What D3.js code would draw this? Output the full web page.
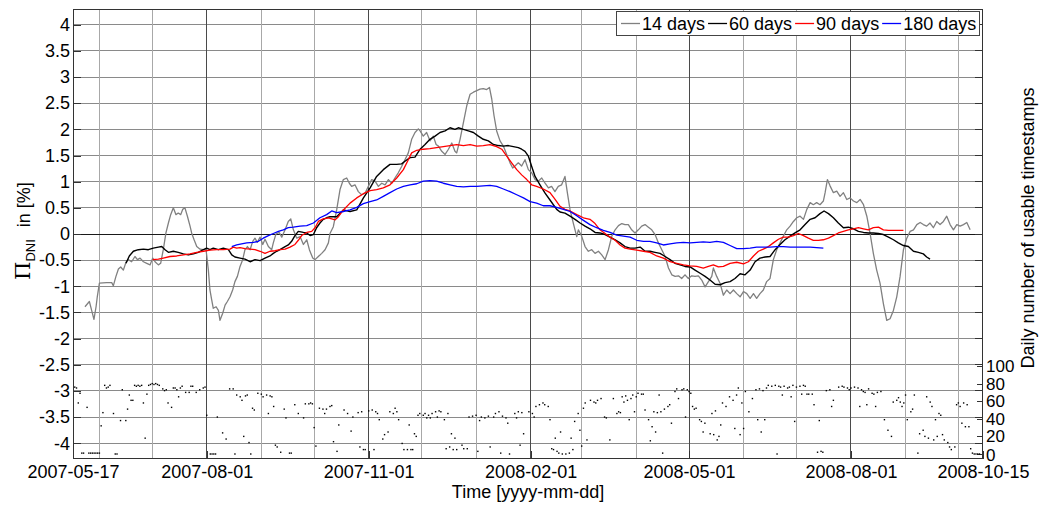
<!DOCTYPE html>
<html><head><meta charset="utf-8">
<script src="https://cdn.jsdelivr.net/npm/d3@7"></script>
<style>
body{margin:0;background:#fff}
svg{display:block}
text{font-family:"Liberation Sans",Arial,sans-serif;fill:#000}
</style>
</head><body>
<svg id="chart" width="1040" height="505"></svg>
<script>
// ---------------- DATA ----------------
const startDate = "2007-05-17", endDate = "2008-10-15";
const xTickLabels = ["2007-05-17","2007-08-01","2007-11-01","2008-02-01","2008-05-01","2008-08-01","2008-10-15"];
const monthGridDates = ["2007-06-01","2007-07-01","2007-09-01","2007-10-01","2007-12-01","2008-01-01",
  "2008-03-01","2008-04-01","2008-06-01","2008-07-01","2008-09-01","2008-10-01"];
const yTickValues = [-4,-3.5,-3,-2.5,-2,-1.5,-1,-0.5,0,0.5,1,1.5,2,2.5,3,3.5,4];
const countTickValues = [0,20,40,60,80,100];
const seriesNames = ["14 days","60 days","90 days","180 days"];
const seriesColors = ["#808080","#000000","#ff0000","#0000ff"];

// days since 2007-05-17 and Pi_DNI in %
const days14 = [6.8,9.3,10.6,11.9,13.1,13.8,15.0,19.1,22.0,22.9,24.4,25.8,27.1,28.6,30.1,31.4,33.3,35.2,36.6,38.1,40.0,41.9,43.8,45.3,46.6,48.5,49.8,51.3,52.8,54.2,55.5,57.0,58.5,59.8,61.2,62.3,63.6,65.0,66.5,67.4,68.8,70.3,72.2,74.1,75.6,76.9,77.8,78.8,79.7,81.3,82.6,83.5,85.0,86.4,87.7,89.2,90.7,92.0,93.4,94.9,96.4,97.7,99.1,100.6,102.1,103.4,104.7,106.3,107.8,109.1,111.0,112.9,113.8,115.3,117.2,118.6,120.5,122.3,123.7,125.2,127.1,129.0,130.9,132.8,134.3,136.2,137.5,139.4,141.3,143.2,145.1,146.0,147.9,149.8,151.7,153.6,155.5,157.0,158.3,160.2,162.1,164.0,165.9,167.8,169.7,171.6,173.5,175.4,177.3,179.2,181.1,182.9,184.8,186.7,188.6,190.5,192.4,194.3,196.2,197.2,199.0,200.9,202.8,204.7,206.3,207.6,209.5,211.4,213.3,215.2,217.0,218.0,219.9,221.8,223.7,225.6,227.5,229.4,231.2,233.1,235.0,236.6,237.9,239.2,240.7,242.6,244.5,246.4,248.3,249.8,251.1,253.0,254.9,256.8,258.7,260.6,262.5,264.4,266.3,268.2,270.1,271.9,273.8,275.7,277.6,279.5,280.9,282.4,284.3,286.2,287.1,289.0,290.9,292.8,294.7,296.6,298.5,300.4,302.3,304.2,306.1,308.0,309.9,311.8,313.6,315.5,317.4,319.3,321.2,323.1,325.0,326.9,328.8,330.7,332.6,334.5,336.4,338.3,340.2,342.1,344.0,345.8,347.7,349.6,351.5,353.4,355.3,357.2,359.1,361.0,362.9,363.8,365.7,367.6,369.5,371.4,373.3,375.2,377.1,379.0,380.9,382.8,384.7,386.6,388.4,390.3,392.2,394.1,396.0,397.9,399.8,401.7,403.6,405.5,407.4,409.3,411.2,413.1,415.0,416.9,418.8,420.6,422.5,424.4,426.3,427.3,428.6,430.1,432.0,433.9,435.8,437.7,439.6,441.5,443.4,445.3,447.2,449.1,451.0,452.8,454.7,456.6,458.5,460.4,462.3,464.2,466.1,468.0,469.9,471.8,473.7,475.6,477.5,479.4,481.3,483.1,485.0,486.9,488.8,490.7,492.6,494.5,496.4,498.3,500.2,502.1,504.0,505.9,507.8,509.7];
const vals14 = [-1.39,-1.29,-1.46,-1.63,-1.39,-1.2,-0.94,-0.93,-0.93,-0.99,-0.81,-0.67,-0.63,-0.69,-0.54,-0.49,-0.53,-0.43,-0.49,-0.46,-0.53,-0.56,-0.59,-0.46,-0.53,-0.59,-0.56,-0.30,0.02,0.21,0.37,0.50,0.37,0.40,0.37,0.47,0.50,0.34,0.15,0.02,-0.11,-0.24,-0.29,-0.30,-0.30,-0.69,-1.07,-1.26,-1.42,-1.39,-1.46,-1.65,-1.52,-1.36,-1.29,-1.20,-1.07,-0.91,-0.81,-0.62,-0.49,-0.30,-0.24,-0.30,-0.14,-0.08,-0.16,-0.06,-0.20,-0.10,-0.24,-0.30,-0.17,0.00,0.03,-0.06,0.08,0.24,0.29,0.08,-0.08,-0.05,-0.20,-0.11,-0.30,-0.46,-0.49,-0.43,-0.37,-0.30,-0.17,0.01,0.14,0.46,0.85,1.04,1.07,0.97,0.91,0.94,0.81,0.75,0.78,0.91,1.04,1.01,0.91,0.97,0.94,1.04,0.97,1.07,1.17,1.29,1.42,1.55,1.81,1.94,2.01,1.97,1.87,1.94,1.78,1.87,1.71,1.68,1.58,1.52,1.62,1.74,1.58,1.55,1.81,2.13,2.45,2.67,2.71,2.74,2.77,2.78,2.76,2.80,2.58,2.26,1.97,1.78,1.68,1.52,1.36,1.26,1.30,1.36,1.30,1.42,1.23,1.17,1.04,1.01,1.07,0.97,0.88,0.91,0.81,0.91,0.94,1.10,0.78,0.46,0.20,-0.05,0.08,-0.04,-0.24,-0.33,-0.30,-0.37,-0.33,-0.40,-0.49,-0.30,-0.04,0.08,0.16,0.20,0.18,0.18,0.08,0.02,0.08,0.15,0.18,0.13,0.08,-0.01,-0.17,-0.30,-0.43,-0.65,-0.78,-0.81,-0.80,-0.85,-0.78,-0.85,-0.80,-0.81,-0.80,-0.88,-1.01,-0.91,-0.81,-0.65,-0.81,-0.94,-1.17,-1.07,-1.14,-1.07,-1.14,-1.20,-1.10,-1.14,-1.23,-1.14,-1.23,-1.14,-1.07,-0.91,-0.85,-0.49,-0.30,-0.17,-0.04,0.08,0.15,0.24,0.31,0.34,0.28,0.47,0.60,0.56,0.60,0.56,0.63,0.79,1.04,0.92,0.79,0.82,0.72,0.79,0.66,0.69,0.63,0.60,0.66,0.56,0.34,0.02,-0.37,-0.69,-0.94,-1.33,-1.65,-1.62,-1.46,-1.20,-0.81,-0.30,-0.08,0.05,0.08,0.18,0.22,0.18,0.15,0.21,0.12,0.24,0.18,0.24,0.34,0.18,0.08,0.18,0.15,0.18,0.22,0.08];

const days60 = [30.1,32.0,34.3,37.1,40.0,42.8,45.6,48.5,50.4,52.3,54.2,57.0,59.8,62.7,65.5,68.4,71.2,74.1,75.9,77.8,79.7,82.6,85.4,88.3,90.2,92.0,94.9,97.7,100.6,103.4,106.3,109.1,111.9,113.8,115.7,117.6,120.5,122.3,124.2,126.1,128.0,130.9,132.8,134.7,136.6,138.4,140.3,142.2,144.1,146.0,149.8,153.6,157.4,161.2,165.0,168.8,172.5,176.3,180.1,183.9,186.7,188.6,191.5,194.3,197.2,200.0,202.8,205.7,208.5,211.4,214.2,217.0,218.9,221.8,224.6,227.5,230.3,233.1,236.0,238.8,241.7,244.5,247.3,250.2,253.0,254.9,256.8,258.7,260.6,262.5,265.3,268.2,271.0,274.8,276.7,279.5,282.4,285.2,288.1,290.9,293.7,296.6,299.4,302.3,305.1,308.0,310.8,313.6,316.5,319.3,322.2,325.0,327.8,330.7,333.5,336.4,339.2,342.0,344.9,347.7,350.6,353.4,356.3,359.1,361.9,364.8,367.6,370.5,373.3,376.1,379.0,381.8,384.7,387.5,390.3,393.2,396.0,398.9,401.7,404.5,407.4,410.2,413.1,415.9,418.8,421.6,424.4,426.7,429.2,432.0,434.8,437.7,440.5,443.4,446.2,449.1,451.9,454.7,457.6,460.4,463.3,466.1,468.9,471.8,474.6,477.5,480.3,483.1,485.0,486.9];
const vals60 = [-0.56,-0.42,-0.33,-0.30,-0.29,-0.30,-0.27,-0.25,-0.24,-0.30,-0.35,-0.33,-0.35,-0.38,-0.40,-0.38,-0.35,-0.30,-0.27,-0.30,-0.27,-0.30,-0.27,-0.30,-0.40,-0.44,-0.46,-0.48,-0.53,-0.49,-0.51,-0.46,-0.42,-0.37,-0.33,-0.30,-0.24,-0.21,-0.14,-0.03,0.05,0.03,0.02,-0.03,-0.01,0.12,0.21,0.28,0.31,0.33,0.33,0.46,0.43,0.46,0.69,0.88,1.10,1.23,1.33,1.33,1.34,1.39,1.46,1.47,1.62,1.71,1.81,1.87,1.94,1.97,2.03,2.00,2.03,2.00,1.97,1.94,1.87,1.81,1.78,1.71,1.69,1.68,1.69,1.67,1.65,1.62,1.58,1.49,1.29,1.10,0.94,0.78,0.65,0.47,0.42,0.40,0.34,0.28,0.21,0.15,0.10,0.03,0.02,-0.01,-0.06,-0.11,-0.17,-0.24,-0.27,-0.27,-0.25,-0.33,-0.33,-0.35,-0.37,-0.43,-0.49,-0.56,-0.59,-0.62,-0.63,-0.69,-0.75,-0.81,-0.88,-0.96,-0.97,-0.93,-0.91,-0.85,-0.76,-0.78,-0.69,-0.53,-0.46,-0.44,-0.43,-0.30,-0.20,-0.11,-0.04,0.02,0.08,0.18,0.28,0.31,0.39,0.44,0.39,0.31,0.21,0.12,0.13,0.10,0.05,0.03,0.02,0.02,0.01,-0.01,-0.06,-0.11,-0.17,-0.22,-0.24,-0.33,-0.35,-0.38,-0.44,-0.48];

const days90 = [45.3,48.5,51.3,55.1,58.9,62.7,66.5,70.3,74.1,77.8,81.6,85.4,89.2,91.1,93.0,94.9,97.7,100.6,103.4,106.3,109.1,111.9,114.8,117.6,120.5,123.3,126.1,128.0,129.9,132.8,135.6,137.5,139.4,142.2,145.1,148.9,150.8,153.6,157.4,161.2,165.0,168.8,172.5,176.3,180.1,183.9,187.7,190.5,192.4,195.3,199.0,202.8,206.6,210.4,214.2,218.0,221.8,225.6,229.4,233.1,236.9,240.7,243.6,246.4,249.2,252.1,254.9,257.8,260.6,263.4,267.2,271.0,273.9,276.7,279.5,282.4,286.2,290.0,293.7,296.6,299.4,302.3,305.1,308.0,310.8,313.6,316.5,320.3,324.1,327.8,331.6,335.4,339.2,343.0,346.8,350.6,354.4,358.1,361.0,363.8,366.7,369.5,373.3,377.1,380.9,383.7,386.6,389.4,392.2,395.1,397.9,400.8,403.6,406.4,409.3,412.1,415.0,417.8,420.6,423.5,426.3,429.2,432.0,434.8,437.7,440.5,443.4,446.2,449.1,451.9,454.7,457.6,460.4,463.3,466.1,468.9,471.8];
const vals90 = [-0.49,-0.48,-0.46,-0.43,-0.42,-0.40,-0.38,-0.35,-0.33,-0.31,-0.30,-0.30,-0.29,-0.25,-0.27,-0.26,-0.28,-0.29,-0.30,-0.33,-0.37,-0.33,-0.32,-0.30,-0.29,-0.25,-0.20,-0.12,-0.03,0.03,0.05,0.12,0.24,0.29,0.31,0.27,0.33,0.46,0.59,0.69,0.77,0.83,0.85,0.88,0.94,1.07,1.23,1.42,1.55,1.60,1.62,1.63,1.65,1.67,1.69,1.71,1.69,1.71,1.68,1.69,1.71,1.67,1.62,1.49,1.36,1.23,1.13,1.04,0.94,0.91,0.86,0.79,0.66,0.53,0.47,0.44,0.37,0.31,0.28,0.20,0.08,0.01,-0.06,-0.12,-0.21,-0.27,-0.29,-0.31,-0.33,-0.35,-0.42,-0.46,-0.53,-0.56,-0.59,-0.61,-0.62,-0.65,-0.62,-0.59,-0.63,-0.62,-0.56,-0.54,-0.57,-0.53,-0.42,-0.33,-0.29,-0.24,-0.17,-0.10,-0.06,-0.06,-0.03,0.01,-0.03,-0.08,-0.12,-0.12,-0.11,-0.08,-0.03,0.02,0.05,0.08,0.10,0.12,0.10,0.08,0.12,0.13,0.08,0.07,0.07,0.07,0.07];

const days180 = [90.2,93.0,95.8,98.7,102.5,105.3,108.1,111.0,113.8,116.7,119.5,122.3,125.2,129.0,132.8,136.6,140.3,144.1,147.0,149.8,153.6,157.4,161.2,165.0,168.8,172.5,176.3,180.1,183.9,187.7,191.5,195.3,199.0,202.8,206.6,210.4,214.2,218.0,221.8,225.6,229.4,233.1,236.9,240.7,244.5,248.3,252.1,255.9,259.7,263.4,267.2,271.0,274.8,278.6,282.4,286.2,290.0,293.7,297.5,301.3,305.1,308.9,312.7,316.5,320.3,324.1,327.8,331.6,335.4,339.2,343.0,346.8,350.6,354.4,358.1,361.9,365.7,369.5,373.3,377.1,380.9,384.7,388.4,392.2,396.0,399.8,403.6,407.4,411.2,415.0,418.8,422.5,426.3];
const vals180 = [-0.24,-0.21,-0.19,-0.17,-0.16,-0.14,-0.08,-0.03,0.01,0.05,0.08,0.12,0.13,0.15,0.16,0.21,0.31,0.37,0.44,0.41,0.43,0.46,0.51,0.58,0.62,0.65,0.72,0.79,0.86,0.91,0.94,0.96,1.01,1.02,1.01,0.97,0.94,0.91,0.90,0.91,0.91,0.92,0.93,0.91,0.86,0.81,0.75,0.69,0.62,0.59,0.54,0.54,0.51,0.47,0.43,0.35,0.26,0.18,0.12,0.07,0.03,-0.02,-0.04,-0.06,-0.12,-0.14,-0.14,-0.17,-0.21,-0.19,-0.17,-0.16,-0.17,-0.16,-0.15,-0.16,-0.14,-0.16,-0.22,-0.28,-0.28,-0.27,-0.25,-0.25,-0.25,-0.24,-0.24,-0.25,-0.25,-0.25,-0.25,-0.26,-0.27];

// daily number of usable timestamps (right axis)
const countDays = [1,2,3,4,5,6,8,9,10,11,12,13,14,15,16,17,18,19,20,21,23,24,25,27,28,30,31,32,33,34,35,36,37,38,39,40,41,42,43,44,45,46,47,48,49,51,52,53,54,56,57,58,59,60,61,62,64,66,67,68,70,72,74,75,76,78,79,80,81,82,85,87,89,91,92,93,95,96,97,98,99,100,101,102,103,105,107,108,110,111,112,113,114,115,116,118,120,121,123,124,126,128,131,132,134,135,136,137,138,140,142,143,144,146,147,148,150,151,154,156,158,159,162,163,164,165,166,168,170,171,172,173,174,176,177,179,180,182,183,184,185,187,188,190,191,192,193,194,195,196,197,199,200,201,202,203,204,206,207,208,209,211,212,213,214,215,216,217,218,221,222,224,225,227,229,230,231,232,234,236,237,239,240,242,243,244,246,247,248,251,252,253,254,255,256,259,261,262,263,265,267,268,270,271,272,273,274,275,276,277,278,280,282,283,284,285,287,288,289,290,291,292,294,296,297,298,300,302,303,305,307,309,310,311,312,313,314,315,316,317,318,319,320,321,323,324,325,327,328,329,330,331,332,333,334,335,336,338,339,340,342,343,344,346,347,348,349,350,351,352,353,354,356,357,358,359,362,363,364,365,366,367,368,369,371,373,375,376,377,378,379,380,381,382,384,386,388,389,390,391,392,393,394,395,397,399,400,401,402,403,404,406,407,408,409,410,411,413,414,415,416,417,418,420,421,423,424,425,426,428,430,431,432,435,437,438,440,441,442,444,446,447,448,449,450,451,452,454,455,456,457,459,461,463,465,466,468,469,470,471,472,473,474,476,477,478,480,481,483,484,485,486,487,488,489,490,491,492,493,494,495,497,498,499,501,502,503,504,505,506,507,508,509,510,511,512,513,514,515];
const counts = [76,75,58,69,1,1,53,1,1,1,1,1,1,1,32,47,78,75,76,78,46,0,0,38,73,38,51,67,61,61,78,77,78,77,78,58,18,68,78,79,80,79,80,79,78,74,72,73,58,53,75,75,73,65,75,77,70,70,77,77,70,73,75,76,44,0,0,0,0,42,24,17,74,74,0,67,65,61,20,66,67,13,0,52,50,69,68,65,67,46,66,65,54,10,8,2,51,41,1,1,56,46,41,57,57,58,57,30,9,52,51,46,51,54,55,14,3,33,50,46,26,42,47,8,48,5,5,49,50,5,48,46,39,17,22,25,48,46,52,48,39,12,5,5,33,5,5,23,20,44,46,44,46,41,44,41,46,48,42,49,48,39,6,46,8,23,5,18,5,10,6,6,42,43,44,3,38,42,41,43,8,42,46,48,1,43,41,35,0,46,41,48,10,47,23,48,46,42,54,56,58,56,54,39,6,5,18,3,1,25,0,0,1,18,5,37,46,27,9,52,58,16,61,59,58,61,63,42,41,16,63,46,48,47,65,59,66,61,39,63,67,48,65,69,68,68,50,39,15,31,48,25,47,67,48,1,51,54,56,35,71,74,63,73,74,42,73,71,69,54,51,52,39,37,25,35,23,46,22,49,16,20,33,58,54,65,61,29,67,75,22,58,29,71,48,63,73,39,74,25,72,39,75,78,77,78,0,77,76,67,77,75,76,65,78,37,76,77,68,78,77,68,68,68,56,2,38,3,2,72,73,54,61,76,77,76,75,73,75,76,75,54,73,71,70,56,74,69,68,54,70,71,39,27,20,59,61,64,59,54,58,67,39,48,51,67,1,23,27,20,65,18,59,54,16,39,20,46,44,22,16,13,8,5,8,56,58,54,35,58,31,56,31,6,1,0,0,0,0];

// ---------------- CHART ----------------
const plot = {left: 73, right: 983, top: 9, bottom: 459};
const svg = d3.select("#chart");
const parse = d3.utcParse("%Y-%m-%d");
const t0 = parse(startDate);
const dayToDate = d => new Date(t0.getTime() + d * 864e5);

const x = d3.scaleUtc().domain([t0, parse(endDate)]).range([plot.left, plot.right]);
const y = d3.scaleLinear().domain([-4.3, 4.3]).range([plot.bottom, plot.top]);
const yc = d3.scaleLinear().domain([0, 100]).range([454, 366]);

svg.append("defs").append("clipPath").attr("id","clip")
  .append("rect").attr("x",plot.left).attr("y",plot.top)
  .attr("width",plot.right-plot.left).attr("height",plot.bottom-plot.top);

// grid
const grid = svg.append("g");
grid.selectAll("line.hg").data(yTickValues.filter(v => v !== 0)).join("line")
  .attr("x1",plot.left).attr("x2",plot.right)
  .attr("y1",d=>y(d)).attr("y2",d=>y(d))
  .attr("stroke","#8a8a8a").attr("stroke-width",1).attr("shape-rendering","crispEdges");
grid.selectAll("line.mg").data(monthGridDates.map(parse)).join("line")
  .attr("x1",d=>x(d)).attr("x2",d=>x(d))
  .attr("y1",plot.top).attr("y2",plot.bottom)
  .attr("stroke","#a8a8a8").attr("stroke-width",1).attr("shape-rendering","crispEdges");
grid.selectAll("line.Mg").data(xTickLabels.slice(1,-1).map(parse)).join("line")
  .attr("x1",d=>x(d)).attr("x2",d=>x(d))
  .attr("y1",plot.top).attr("y2",plot.bottom)
  .attr("stroke","#4a4a4a").attr("stroke-width",1).attr("shape-rendering","crispEdges");
grid.append("line").attr("x1",plot.left).attr("x2",plot.right)
  .attr("y1",y(0)).attr("y2",y(0))
  .attr("stroke","#1a1a1a").attr("stroke-width",1).attr("shape-rendering","crispEdges");

// axes
const axL = svg.append("g").attr("transform",`translate(${plot.left},0)`)
  .call(d3.axisLeft(y).tickValues(yTickValues).tickFormat(d=>String(d)).tickSizeInner(-8).tickSizeOuter(0).tickPadding(3));
const axB = svg.append("g").attr("transform",`translate(0,${plot.bottom})`)
  .call(d3.axisBottom(x).tickValues(xTickLabels.map(parse)).tickFormat(d3.utcFormat("%Y-%m-%d")).tickSizeInner(-8).tickSizeOuter(0).tickPadding(6));
const axR = svg.append("g").attr("transform",`translate(${plot.right},0)`)
  .call(d3.axisRight(yc).tickValues(countTickValues).tickFormat(d=>String(d)).tickSizeInner(-6).tickSizeOuter(0).tickPadding(3));
// mirrored left ticks on right side
svg.append("g").selectAll("line").data(yTickValues).join("line")
  .attr("x1",plot.right-8).attr("x2",plot.right).attr("y1",d=>y(d)).attr("y2",d=>y(d))
  .attr("stroke","#333").attr("shape-rendering","crispEdges");
[axL,axB,axR].forEach(a=>{
  a.select(".domain").remove();
  a.selectAll(".tick line").attr("stroke","#333").attr("shape-rendering","crispEdges");
  a.selectAll("text").attr("font-size",18).attr("fill","#000").attr("font-family",'"Liberation Sans",Arial,sans-serif');
});
axR.selectAll("text").attr("font-size",17);
axR.selectAll(".tick").filter(d => d === 0).select("text").attr("dy","0.4em");

// box
svg.append("rect").attr("x",plot.left+0.5).attr("y",plot.top+0.5)
  .attr("width",plot.right-plot.left-1).attr("height",plot.bottom-plot.top-1)
  .attr("fill","none").attr("stroke","#333").attr("stroke-width",1);

// dots (daily counts)
svg.append("g").attr("clip-path","url(#clip)").selectAll("rect").data(countDays.map((d,i)=>[d,counts[i]])).join("rect")
  .attr("x",d=>x(dayToDate(d[0]))-0.7).attr("y",d=>yc(d[1])-0.7)
  .attr("width",1.4).attr("height",1.4).attr("fill","#000");

// series
const series = [[days14,vals14],[days60,vals60],[days90,vals90],[days180,vals180]];
const line = d3.line().x(p=>x(dayToDate(p[0]))).y(p=>y(p[1]));
const lg = svg.append("g").attr("clip-path","url(#clip)");
series.forEach((s,i)=>{
  const pts = s[0].map((d,j)=>[d,s[1][j]]);
  lg.append("path").datum(pts).attr("d",line).attr("fill","none")
    .attr("stroke",seriesColors[i]).attr("stroke-width",i===1?1.4:1.3).attr("stroke-linejoin","round");
});

// legend
const leg = svg.append("g");
leg.append("rect").attr("x",616.5).attr("y",11.5).attr("width",363).attr("height",24)
  .attr("fill","#fff").attr("stroke","#444").attr("stroke-width",1);
let lx = 621;
seriesNames.forEach((n,i)=>{
  leg.append("line").attr("x1",lx).attr("x2",lx+19).attr("y1",23.5).attr("y2",23.5)
    .attr("stroke",seriesColors[i]).attr("stroke-width",1.3);
  const t = leg.append("text").attr("x",lx+21).attr("y",30).attr("font-size",18).text(n);
  lx += 21 + t.node().getComputedTextLength() + 3;
});

// axis titles
svg.append("text").attr("x",(plot.left+plot.right)/2).attr("y",498).attr("text-anchor","middle")
  .attr("font-size",18).text("Time [yyyy-mm-dd]");
const yl = svg.append("text").attr("transform","translate(30,231) rotate(-90)").attr("text-anchor","middle");
yl.append("tspan").attr("font-size",21).attr("font-family",'"DejaVu Serif","Liberation Serif",serif').text("\u03A0");
yl.append("tspan").attr("font-size",13).attr("dy",5).text("DNI");
yl.append("tspan").attr("font-size",18).attr("dy",-5).attr("dx",12).text("in [%]");
svg.append("text").attr("transform","translate(1034,228) rotate(-90)").attr("text-anchor","middle")
  .attr("font-size",18).text("Daily number of usable timestamps");
</script>
</body></html>
